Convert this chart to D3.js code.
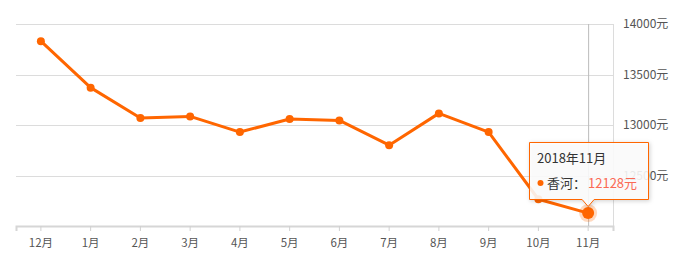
<!DOCTYPE html>
<html>
<head>
<meta charset="utf-8">
<script src="https://cdn.jsdelivr.net/npm/d3@7"></script>
<style>
  body { margin: 0; background: #fff; }
  svg text { font-family: "Noto Sans CJK SC", "Noto Sans", sans-serif; }
</style>
</head>
<body>
<svg id="chart" width="686" height="265"></svg>
<script>
// month labels and average price (元/㎡)
var months = ["12月", "1月", "2月", "3月", "4月", "5月", "6月", "7月", "8月", "9月", "10月", "11月"];
var prices = [13830, 13370, 13070, 13085, 12930, 13060, 13045, 12800, 13115, 12930, 12265, 12128];
var yTicks = [12000, 12500, 13000, 13500, 14000];
var seriesName = "香河";
var activeLabel = "2018年11月";
var activeIndex = 11;

var line_color = "#ff6600";
var grid_color = "#dcdcdc";

var svg = d3.select("#chart");
var plotLeft = 16, plotRight = 613, plotTop = 24, plotBottom = 226;

var x = d3.scaleBand().domain(months).range([plotLeft, plotRight]);
var y = d3.scaleLinear().domain([12000, 14000]).range([plotBottom, plotTop]);

function cx(d, i) { return x(months[i]) + x.bandwidth() / 2; }

// horizontal grid
svg.append("g").selectAll("line").data(yTicks.slice(1)).enter().append("line")
  .attr("x1", plotLeft).attr("x2", plotRight)
  .attr("y1", function(d){ return Math.round(y(d)) + 0.5; })
  .attr("y2", function(d){ return Math.round(y(d)) + 0.5; })
  .attr("stroke", grid_color).attr("stroke-width", 1);

// right y axis line + labels
svg.append("line").attr("x1", plotRight + 0.5).attr("x2", plotRight + 0.5)
  .attr("y1", plotTop).attr("y2", plotBottom).attr("stroke", grid_color);

svg.append("g").selectAll("text").data(yTicks.slice(1)).enter().append("text")
  .attr("x", 623).attr("y", function(d){ return y(d); })
  .attr("dy", "0.35em")
  .attr("font-size", 12).attr("fill", "#555")
  .text(function(d){ return d + "元"; });

// x axis
var xAxis = d3.axisBottom(x).tickSize(5).tickPadding(8);
var gx = svg.append("g").attr("transform", "translate(0," + plotBottom + ")").call(xAxis);
gx.select(".domain").attr("stroke", "#d6d6d6").attr("stroke-width", 2);
gx.selectAll(".tick line").attr("stroke", "#d0d0d0");
gx.selectAll(".tick text").attr("font-size", 11.5).attr("fill", "#555")
  .style("font-family", '"Noto Sans CJK SC", sans-serif');

// pointer line at active month
var ax = cx(null, activeIndex);
svg.append("line").attr("x1", ax + 0.5).attr("x2", ax + 0.5)
  .attr("y1", plotTop).attr("y2", plotBottom).attr("stroke", "#bbb");

// price line
var line = d3.line().x(function(d, i){ return cx(d, i); }).y(function(d){ return y(d); });
svg.append("path").datum(prices)
  .attr("d", line).attr("fill", "none")
  .attr("stroke", line_color).attr("stroke-width", 3)
  .attr("stroke-linejoin", "round");

svg.append("g").selectAll("circle").data(prices).enter().append("circle")
  .attr("cx", cx).attr("cy", function(d){ return y(d); })
  .attr("r", 4).attr("fill", line_color);

// active point halo
var ay = y(prices[activeIndex]);
svg.append("circle").attr("cx", ax).attr("cy", ay).attr("r", 9)
  .attr("fill", line_color).attr("opacity", 0.25);
svg.append("circle").attr("cx", ax).attr("cy", ay).attr("r", 6)
  .attr("fill", line_color);

// tooltip
var tip = svg.append("g");
var tx0 = 529.5, ty0 = 142.5, tw = 119, th = 57;
var tipPath = "M" + tx0 + "," + ty0 + " h" + tw + " v" + th +
  " H" + (ax + 6) + " l-6,7 l-6,-7 H" + tx0 + " Z";
tip.append("path").attr("d", tipPath)
  .attr("fill", "rgba(255,255,255,0.88)")
  .attr("stroke", line_color).attr("stroke-width", 1)
  .style("filter", "drop-shadow(1px 1px 2px rgba(0,0,0,0.2))");
tip.append("text").attr("x", 537).attr("y", 163)
  .attr("font-size", 13).attr("fill", "#333").text(activeLabel);
tip.append("circle").attr("cx", 540.5).attr("cy", 183).attr("r", 3).attr("fill", line_color);
tip.append("text").attr("x", 547).attr("y", 188)
  .attr("font-size", 13).attr("fill", "#333").text(seriesName + "：");
tip.append("text").attr("x", 588).attr("y", 188)
  .attr("font-size", 13).attr("fill", "#fb6a55").text(prices[activeIndex] + "元");
</script>
</body>
</html>
